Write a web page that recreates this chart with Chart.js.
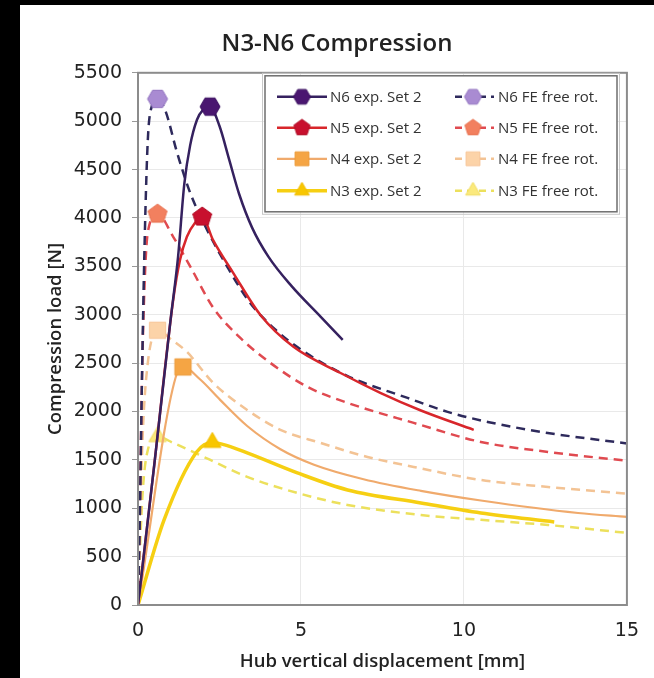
<!DOCTYPE html>
<html><head><meta charset="utf-8">
<script src="https://cdn.jsdelivr.net/npm/chart.js@4.4.0/dist/chart.umd.min.js"></script>
<style>
html,body{margin:0;padding:0;background:#000;width:654px;height:678px;overflow:hidden}
#wrap{position:absolute;left:20px;top:5px;width:634px;height:673px;background:#fff}
canvas{display:block}
</style></head><body>
<div id="wrap"><canvas id="c" width="634" height="673" style="width:634px;height:673px"></canvas></div>
<script>
// ---------- text ----------
const chartTitle = 'N3-N6 Compression';
const xTitle = 'Hub vertical displacement [mm]';
const yTitle = 'Compression load [N]';
const xTicks = [0, 5, 10, 15];
const yTicks = [0, 500, 1000, 1500, 2000, 2500, 3000, 3500, 4000, 4500, 5000, 5500];

// ---------- data (displacement mm, load N) ----------
const n6ExpX = [0, 0.5, 1.0, 1.23, 1.42, 1.6, 1.81, 2.0, 2.21, 2.5, 2.8, 3.1, 3.5, 4.0, 4.7, 5.6, 6.28];
const n6ExpY = [0, 1450, 2950, 3600, 4350, 4750, 5015, 5120, 5150, 4950, 4600, 4250, 3900, 3600, 3300, 2980, 2740];
const n5ExpX = [0, 0.5, 1.08, 1.29, 1.5, 1.75, 1.97, 2.3, 2.92, 3.75, 4.77, 6.2, 7.45, 8.68, 10.3];
const n5ExpY = [0, 1450, 3154, 3567, 3805, 3950, 4010, 3774, 3433, 3000, 2668, 2400, 2190, 2010, 1810];
const n4ExpX = [0, 1.2, 1.38, 1.91, 2.52, 3.35, 4.37, 5.4, 6.92, 8.68, 10.52, 13.5, 15];
const n4ExpY = [0, 2400, 2460, 2330, 2120, 1850, 1610, 1450, 1300, 1180, 1080, 951, 910];
const n3ExpX = [0, 0.8, 1.8, 2.28, 2.6, 3.35, 4.89, 6.43, 8.68, 10.52, 12.77];
const n3ExpY = [0, 880, 1582, 1680, 1660, 1572, 1365, 1189, 1055, 951, 858];

const n6FeX = [0, 0.06, 0.12, 0.2, 0.3, 0.42, 0.6, 0.83, 1.2, 1.6, 2.12, 2.74, 3.4, 4.2, 5.0, 6.4, 8.27, 9.5, 10.73, 12.57, 15];
const n6FeY = [0, 1000, 2300, 3700, 4800, 5150, 5230, 5118, 4674, 4260, 3877, 3495, 3140, 2850, 2640, 2370, 2140, 1996, 1892, 1778, 1670];
const n5FeX = [0, 0.06, 0.12, 0.2, 0.3, 0.6, 1.08, 1.6, 2.31, 3.14, 4.06, 5.2, 6.43, 8.46, 10.52, 12.58, 15];
const n5FeY = [0, 1000, 2300, 3300, 3850, 4040, 3805, 3500, 3071, 2760, 2502, 2254, 2089, 1882, 1685, 1582, 1490];
const n4FeX = [0, 0.06, 0.15, 0.3, 0.6, 1.0, 1.5, 2.31, 3.35, 4.37, 5.6, 7.04, 8.46, 10.52, 12.58, 15];
const n4FeY = [0, 800, 1800, 2500, 2840, 2750, 2616, 2295, 2016, 1810, 1675, 1530, 1427, 1292, 1220, 1150];
const n3FeX = [0, 0.05, 0.15, 0.3, 0.6, 1.08, 2.22, 3.35, 4.89, 6.43, 8.68, 10.52, 12.58, 15];
const n3FeY = [0, 500, 1200, 1600, 1740, 1675, 1499, 1324, 1158, 1034, 930, 880, 827, 745];

const labels = ['N6 exp. Set 2', 'N6 FE free rot.', 'N5 exp. Set 2', 'N5 FE free rot.',
                'N4 exp. Set 2', 'N4 FE free rot.', 'N3 exp. Set 2', 'N3 FE free rot.'];

// ---------- marker shapes ----------
function shape(sides, r, rot, fill, stroke) {
  const s = Math.ceil(r * 2 + 4);
  const c = document.createElement('canvas');
  c.width = s; c.height = s;
  const g = c.getContext('2d');
  g.translate(s / 2, s / 2);
  g.beginPath();
  for (let i = 0; i < sides; i++) {
    const a = rot + i * 2 * Math.PI / sides;
    g.lineTo(r * Math.cos(a), r * Math.sin(a));
  }
  g.closePath();
  g.fillStyle = fill; g.fill();
  g.strokeStyle = stroke; g.lineWidth = 1; g.stroke();
  return c;
}
const HEX = (r, f, s) => shape(6, r, 0, f, s);
const PENT = (r, f, s) => shape(5, r, -Math.PI / 2, f, s);
const SQR = (r, f, s) => shape(4, r * 1.15, Math.PI / 4, f, s);
const TRI = (r, f, s) => shape(3, r, -Math.PI / 2, f, s);

const styles = [
  {line: '#35215f', dash: [], w: 2.5, mk: HEX, mf: '#4a1670', ms: '#3a1060'},
  {line: '#2e2a5c', dash: [9, 6], w: 2.5, mk: HEX, mf: '#a98bd2', ms: '#9274c0'},
  {line: '#d8262b', dash: [], w: 2.5, mk: PENT, mf: '#c8102e', ms: '#b00d25'},
  {line: '#e04a50', dash: [9, 6], w: 2.5, mk: PENT, mf: '#f2805f', ms: '#e8704f'},
  {line: '#f0aa6c', dash: [], w: 2.2, mk: SQR, mf: '#f5a544', ms: '#ec9a38'},
  {line: '#f3c394', dash: [9, 6], w: 2.5, mk: SQR, mf: '#fcd3a8', ms: '#f7c598'},
  {line: '#f6cf12', dash: [], w: 3.5, mk: TRI, mf: '#f8c600', ms: '#f0bc00'},
  {line: '#ece05c', dash: [9, 6], w: 2.5, mk: TRI, mf: '#fbe97c', ms: '#f0dc60'}
];
const xsAll = [n6ExpX, n6FeX, n5ExpX, n5FeX, n4ExpX, n4FeX, n3ExpX, n3FeX];
const ysAll = [n6ExpY, n6FeY, n5ExpY, n5FeY, n4ExpY, n4FeY, n3ExpY, n3FeY];

const datasets = labels.map((lab, k) => {
  const xs = xsAll[k], ys = ysAll[k];
  const peak = ys.indexOf(Math.max(...ys));
  const st = styles[k];
  return {
    label: lab,
    data: xs.map((x, i) => ({x: x, y: ys[i]})),
    showLine: true,
    borderColor: st.line,
    backgroundColor: st.mf,
    borderWidth: st.w,
    borderDash: st.dash,
    cubicInterpolationMode: 'monotone',
    pointStyle: st.mk(10, st.mf, st.ms),
    pointRadius: ys.map((v, i) => i === peak ? 10 : 0),
    pointHoverRadius: 0,
    order: k % 2 === 0 ? 1 : 2
  };
});

const frameLegend = {
  id: 'frameLegend',
  afterDraw(chart) {
    const {ctx, chartArea: a} = chart;
    ctx.save();
    ctx.strokeStyle = '#8c8c8c';
    ctx.lineWidth = 2;
    ctx.strokeRect(a.left, a.top, a.right - a.left, a.bottom - a.top);
    // legend box
    const L = a.left + 127, T = a.top + 3, W = 352, H = 136;
    ctx.fillStyle = '#fff';
    ctx.fillRect(L, T, W, H);
    ctx.strokeStyle = '#6e6e6e';
    ctx.lineWidth = 1.5;
    ctx.strokeRect(L, T, W, H);
    ctx.strokeStyle = '#c8c8c8';
    ctx.lineWidth = 1;
    ctx.strokeRect(L - 2.5, T - 2.5, W + 5, H + 5);
    ctx.font = '15px "Open Sans", sans-serif';
    ctx.textBaseline = 'middle';
    ctx.textAlign = 'left';
    const rowY = [21, 52, 83, 115];
    labels.forEach((lab, k) => {
      const row = Math.floor(k / 2), col = k % 2;
      const st = styles[k];
      const y = T + rowY[row];
      const x0 = col === 0 ? L + 12 : L + 190;
      const x1 = col === 0 ? L + 62 : L + 229;
      const mx = col === 0 ? L + 37 : L + 208;
      const tx = col === 0 ? L + 65 : L + 233;
      ctx.strokeStyle = st.line;
      ctx.lineWidth = st.w;
      ctx.setLineDash(st.dash.length ? [7, 5] : []);
      ctx.beginPath(); ctx.moveTo(x0, y); ctx.lineTo(x1, y); ctx.stroke();
      ctx.setLineDash([]);
      const img = st.mk(8.5, st.mf, st.ms);
      ctx.drawImage(img, mx - img.width / 2, y - img.height / 2);
      ctx.fillStyle = '#333';
      ctx.fillText(lab, tx, y + 0.5);
    });
    ctx.restore();
  }
};

Chart.defaults.font.family = '"Open Sans", sans-serif';
Chart.defaults.color = '#222';

new Chart(document.getElementById('c'), {
  type: 'scatter',
  data: {datasets: datasets},
  plugins: [frameLegend],
  options: {
    responsive: false,
    animation: false,
    devicePixelRatio: 1,
    layout: {padding: 0},
    plugins: {
      legend: {display: false},
      tooltip: {enabled: false},
      title: {
        display: true, text: chartTitle,
        font: {size: 24, weight: 600}, color: '#222',
        padding: {top: 25, bottom: 14}
      }
    },
    scales: {
      x: {
        type: 'linear', min: 0, max: 15,
        afterBuildTicks: s => { s.ticks = xTicks.map(v => ({value: v})); },
        afterFit: s => { s.height = 73; },
        grid: {color: '#e9e9e9', drawTicks: false},
        border: {display: false},
        ticks: {font: {size: 19, family: '"DejaVu Sans", sans-serif'}, color: '#222', padding: 15, callback: v => String(v)},
        title: {display: true, text: xTitle, font: {size: 18.5, weight: 600}, color: '#222', padding: {top: 0, bottom: 5}}
      },
      y: {
        type: 'linear', min: 0, max: 5500,
        afterBuildTicks: s => { s.ticks = yTicks.map(v => ({value: v})); },
        afterFit: s => { s.width = 118; },
        grid: {color: '#e9e9e9', drawTicks: true, tickLength: 6, tickColor: '#999'},
        border: {display: false},
        ticks: {font: {size: 19, family: '"DejaVu Sans", sans-serif'}, color: '#222', padding: 10, callback: v => String(v)},
        title: {display: true, text: yTitle, font: {size: 18.5, weight: 600}, color: '#222', padding: {top: 25, bottom: 0}}
      }
    }
  }
});
</script>
</body></html>
